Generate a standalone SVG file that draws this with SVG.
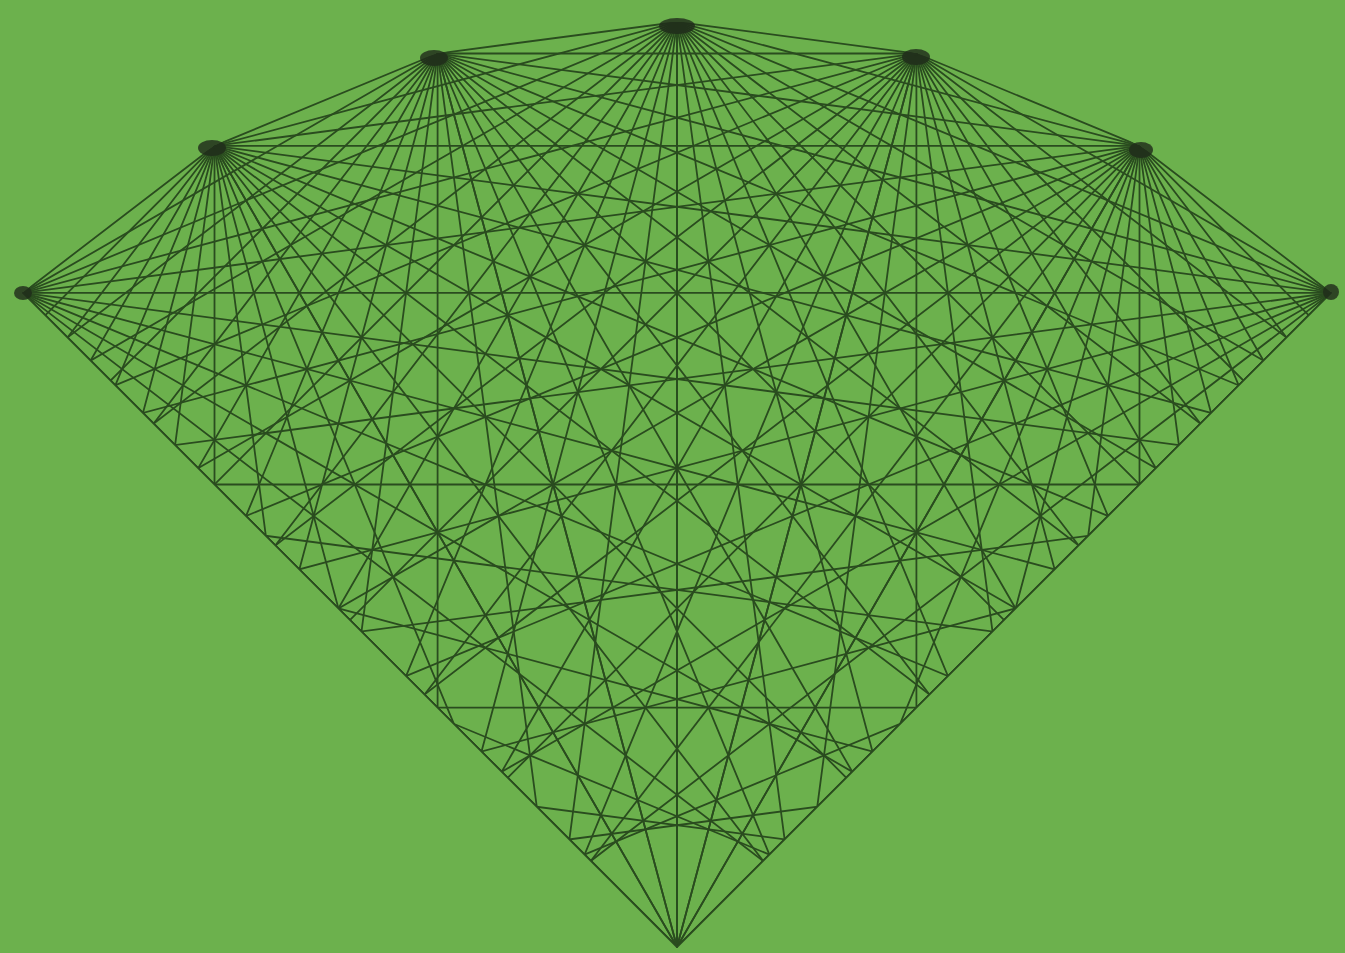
<svg xmlns="http://www.w3.org/2000/svg" width="1345" height="953" viewBox="0 0 1345 953">
<style>
.s{stroke:#1f3b17;stroke-width:1.8;stroke-linecap:round;fill:none;opacity:.85}
.nail{fill:#1f2a1a;opacity:.8}
</style>
<defs>
<clipPath id="sector"><path d="M0 0 L-654.07 -654.07 A925 925 0 0 1 654.07 -654.07 Z"/></clipPath>
<g id="fan">
<line x1="0" y1="-925" x2="239.41" y2="-893.48"/>
<line x1="0" y1="-925" x2="462.5" y2="-801.07"/>
<line x1="0" y1="-925" x2="654.07" y2="-654.07"/>
<line x1="0" y1="-925" x2="801.07" y2="-462.5"/>
<line x1="0" y1="-925" x2="893.48" y2="-239.41"/>
<line x1="0" y1="-925" x2="925" y2="0"/>
<line x1="0" y1="-925" x2="893.48" y2="239.41"/>
<line x1="0" y1="-925" x2="801.07" y2="462.5"/>
<line x1="0" y1="-925" x2="654.07" y2="654.07"/>
<line x1="0" y1="-925" x2="462.5" y2="801.07"/>
<line x1="0" y1="-925" x2="239.41" y2="893.48"/>
<line x1="0" y1="-925" x2="0" y2="925"/>
</g>
</defs>
<rect width="1345" height="953" fill="#6cb14d"/>
<g id="connectors" class="s" transform="translate(677 947)">
<g clip-path="url(#sector)">
<use href="#fan"/>
<use href="#fan" transform="rotate(15)"/>
<use href="#fan" transform="rotate(30)"/>
<use href="#fan" transform="rotate(45)"/>
<use href="#fan" transform="rotate(60)"/>
<use href="#fan" transform="rotate(75)"/>
<use href="#fan" transform="rotate(90)"/>
<use href="#fan" transform="rotate(105)"/>
<use href="#fan" transform="rotate(120)"/>
<use href="#fan" transform="rotate(135)"/>
<use href="#fan" transform="rotate(150)"/>
<use href="#fan" transform="rotate(165)"/>
<use href="#fan" transform="rotate(180)"/>
<use href="#fan" transform="rotate(195)"/>
<use href="#fan" transform="rotate(210)"/>
<use href="#fan" transform="rotate(225)"/>
<use href="#fan" transform="rotate(240)"/>
<use href="#fan" transform="rotate(255)"/>
<use href="#fan" transform="rotate(270)"/>
<use href="#fan" transform="rotate(285)"/>
<use href="#fan" transform="rotate(300)"/>
<use href="#fan" transform="rotate(315)"/>
<use href="#fan" transform="rotate(330)"/>
<use href="#fan" transform="rotate(345)"/>
</g>
<line x1="0" y1="0" x2="-654.07" y2="-654.07"/>
<line x1="0" y1="0" x2="654.07" y2="-654.07"/>
</g>
<g id="nail-1"><ellipse class="nail" cx="23" cy="293" rx="9" ry="7"/></g>
<g id="nail-2"><ellipse class="nail" cx="212" cy="148" rx="14" ry="8"/></g>
<g id="nail-3"><ellipse class="nail" cx="434" cy="58" rx="14" ry="8"/></g>
<g id="nail-4"><ellipse class="nail" cx="677" cy="26" rx="18" ry="8"/></g>
<g id="nail-5"><ellipse class="nail" cx="916" cy="57" rx="14" ry="8"/></g>
<g id="nail-6"><ellipse class="nail" cx="1141" cy="150" rx="12" ry="8"/></g>
<g id="nail-7"><ellipse class="nail" cx="1331" cy="292" rx="8" ry="8"/></g>
</svg>
